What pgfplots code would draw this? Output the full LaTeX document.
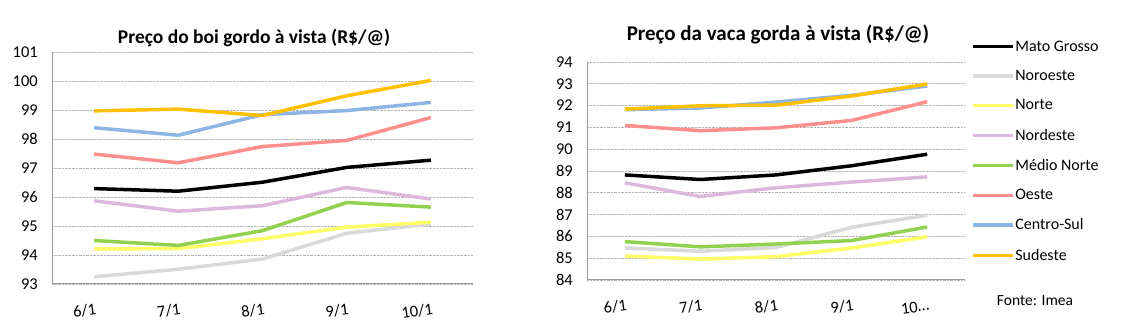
\documentclass[border=0pt]{standalone}
\usepackage{fontspec}
\setmainfont{Carlito}
\usepackage{pgfplots}
\pgfplotsset{compat=1.18}
\definecolor{cMT}{HTML}{000000}
\definecolor{cNO}{HTML}{D9D9D9}
\definecolor{cN}{HTML}{FFFF66}
\definecolor{cNE}{HTML}{DDB8DD}
\definecolor{cMN}{HTML}{92D050}
\definecolor{cO}{HTML}{FF8F8F}
\definecolor{cCS}{HTML}{8DB4E2}
\definecolor{cSE}{HTML}{FFC000}
\pgfplotsset{
  mystyle/.style={
    scale only axis,
    axis x line=bottom, axis y line=left,
    axis line style={draw=gray!80, line width=1pt, -},
    xmin=-0.5, xmax=4.5,
    xtick={0,1,2,3,4},
    major tick length=0pt,
    ymajorgrids, grid style={densely dotted, gray!60, line width=0.6pt},
    /pgf/number format/assume math mode=true,
    tick label style={font=\fontsize{16.5}{18}\selectfont},
    yticklabel style={anchor=east, inner sep=0pt, xshift=-14pt},
    xticklabel style={anchor=east, inner sep=0pt, yshift=-25pt, xshift=2pt, rotate=8},
    every axis plot/.append style={line width=3.5pt, mark=none},
    clip=false,
  }
}
\begin{document}
\begin{tikzpicture}[x=1pt,y=1pt]
\path[use as bounding box] (0,0) rectangle (1126,336);
\begin{axis}[mystyle, at={(52pt,52pt)}, anchor=south west, width=421pt, height=232pt,
  ymin=93, ymax=101, ytick={93,...,101},
  xticklabels={6/1,7/1,8/1,9/1,10/1}]
\addplot[cMT] coordinates {(0,96.29) (1,96.20) (2,96.51) (3,97.02) (4,97.27)};
\addplot[cNO] coordinates {(0,93.25) (1,93.51) (2,93.86) (3,94.75) (4,95.07)};
\addplot[cN] coordinates {(0,94.21) (1,94.22) (2,94.56) (3,94.96) (4,95.13)};
\addplot[cNE] coordinates {(0,95.87) (1,95.51) (2,95.70) (3,96.33) (4,95.93)};
\addplot[cMN] coordinates {(0,94.50) (1,94.33) (2,94.84) (3,95.81) (4,95.65)};
\addplot[cO] coordinates {(0,97.48) (1,97.18) (2,97.74) (3,97.95) (4,98.74)};
\addplot[cCS] coordinates {(0,98.39) (1,98.13) (2,98.84) (3,98.98) (4,99.26)};
\addplot[cSE] coordinates {(0,98.97) (1,99.03) (2,98.81) (3,99.49) (4,100.02)};
\end{axis}
\node[font=\fontsize{19.5}{22}\selectfont\bfseries] at (254,298) {Preço do boi gordo à vista (R\$/@)};
\begin{axis}[mystyle, at={(587pt,56pt)}, anchor=south west, width=378pt, height=218pt,
  ymin=84, ymax=94, ytick={84,...,94},
  xticklabels={6/1,7/1,8/1,9/1,10…},
  legend style={draw=none, fill=none, at={(1.015,1.103)}, anchor=north west,
    font=\fontsize{16}{18}\selectfont, row sep=15.6pt, inner sep=0pt,
    nodes={inner sep=1pt}},
  legend cell align=left,
  legend image code/.code={\draw[line width=3.5pt] (0pt,0pt) -- (40pt,0pt);}]
\addplot[cMT] coordinates {(0,88.82) (1,88.61) (2,88.82) (3,89.24) (4,89.77)};
\addplot[cNO] coordinates {(0,85.47) (1,85.32) (2,85.49) (3,86.42) (4,86.97)};
\addplot[cN] coordinates {(0,85.10) (1,84.96) (2,85.07) (3,85.47) (4,85.98)};
\addplot[cNE] coordinates {(0,88.46) (1,87.83) (2,88.23) (3,88.49) (4,88.73)};
\addplot[cMN] coordinates {(0,85.76) (1,85.52) (2,85.65) (3,85.81) (4,86.43)};
\addplot[cO] coordinates {(0,91.09) (1,90.85) (2,90.98) (3,91.32) (4,92.18)};
\addplot[cCS] coordinates {(0,91.81) (1,91.89) (2,92.16) (3,92.47) (4,92.90)};
\addplot[cSE] coordinates {(0,91.84) (1,91.99) (2,92.02) (3,92.44) (4,92.99)};
\legend{Mato Grosso,Noroeste,Norte,Nordeste,Médio Norte,Oeste,Centro-Sul,Sudeste}
\end{axis}
\node[font=\fontsize{21}{24}\selectfont\bfseries] at (778,302) {Preço da vaca gorda à vista (R\$/@)};
\node[font=\fontsize{15.5}{18}\selectfont] at (1035,35) {Fonte: Imea};
\end{tikzpicture}
\end{document}
